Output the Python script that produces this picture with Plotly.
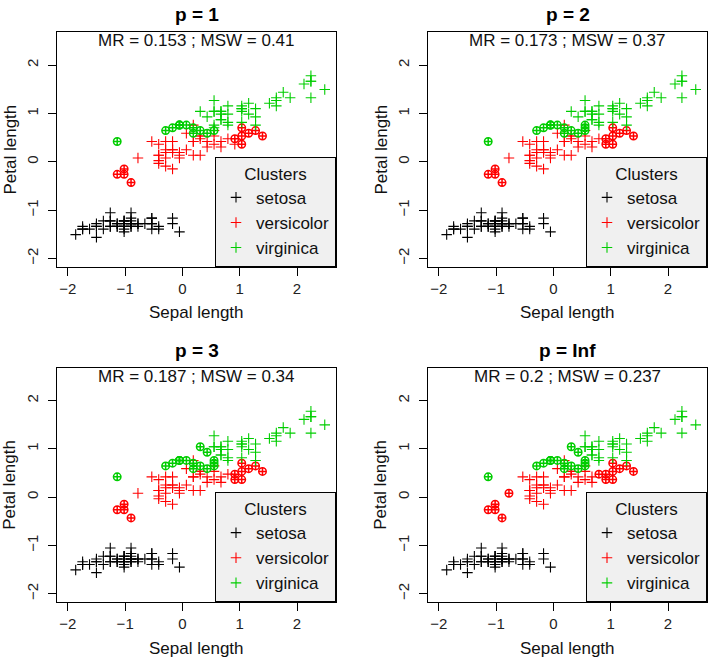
import numpy as np
import plotly.graph_objects as go

# Iris measurements (cm)
sepal_length = [
    5.1, 4.9, 4.7, 4.6, 5.0, 5.4, 4.6, 5.0, 4.4, 4.9, 5.4, 4.8, 4.8, 4.3, 5.8, 5.7, 5.4, 5.1, 5.7, 5.1,
    5.4, 5.1, 4.6, 5.1, 4.8, 5.0, 5.0, 5.2, 5.2, 4.7, 4.8, 5.4, 5.2, 5.5, 4.9, 5.0, 5.5, 4.9, 4.4, 5.1,
    5.0, 4.5, 4.4, 5.0, 5.1, 4.8, 5.1, 4.6, 5.3, 5.0,
    7.0, 6.4, 6.9, 5.5, 6.5, 5.7, 6.3, 4.9, 6.6, 5.2, 5.0, 5.9, 6.0, 6.1, 5.6, 6.7, 5.6, 5.8, 6.2, 5.6,
    5.9, 6.1, 6.3, 6.1, 6.4, 6.6, 6.8, 6.7, 6.0, 5.7, 5.5, 5.5, 5.8, 6.0, 5.4, 6.0, 6.7, 6.3, 5.6, 5.5,
    5.5, 6.1, 5.8, 5.0, 5.6, 5.7, 5.7, 6.2, 5.1, 5.7,
    6.3, 5.8, 7.1, 6.3, 6.5, 7.6, 4.9, 7.3, 6.7, 7.2, 6.5, 6.4, 6.8, 5.7, 5.8, 6.4, 6.5, 7.7, 7.7, 6.0,
    6.9, 5.6, 7.7, 6.3, 6.7, 7.2, 6.2, 6.1, 6.4, 7.2, 7.4, 7.9, 6.4, 6.3, 6.1, 7.7, 6.3, 6.4, 6.0, 6.9,
    6.7, 6.9, 5.8, 6.8, 6.7, 6.7, 6.3, 6.5, 6.2, 5.9,
]
petal_length = [
    1.4, 1.4, 1.3, 1.5, 1.4, 1.7, 1.4, 1.5, 1.4, 1.5, 1.5, 1.6, 1.4, 1.1, 1.2, 1.5, 1.3, 1.4, 1.7, 1.5,
    1.7, 1.5, 1.0, 1.7, 1.9, 1.6, 1.6, 1.5, 1.4, 1.6, 1.6, 1.5, 1.5, 1.4, 1.5, 1.2, 1.3, 1.4, 1.3, 1.5,
    1.3, 1.3, 1.3, 1.6, 1.9, 1.4, 1.6, 1.4, 1.5, 1.4,
    4.7, 4.5, 4.9, 4.0, 4.6, 4.5, 4.7, 3.3, 4.6, 3.9, 3.5, 4.2, 4.0, 4.7, 3.6, 4.4, 4.5, 4.1, 4.5, 3.9,
    4.8, 4.0, 4.9, 4.7, 4.3, 4.4, 4.8, 5.0, 4.5, 3.5, 3.8, 3.7, 3.9, 5.1, 4.5, 4.5, 4.7, 4.4, 4.1, 4.0,
    4.4, 4.6, 4.0, 3.3, 4.2, 4.2, 4.2, 4.3, 3.0, 4.1,
    6.0, 5.1, 5.9, 5.6, 5.8, 6.6, 4.5, 6.3, 5.8, 6.1, 5.1, 5.3, 5.5, 5.0, 5.1, 5.3, 5.5, 6.7, 6.9, 5.0,
    5.7, 4.9, 6.7, 4.9, 5.7, 6.0, 4.8, 4.9, 5.6, 5.8, 6.1, 6.4, 5.6, 5.1, 5.6, 6.1, 5.6, 5.5, 4.8, 5.4,
    5.6, 5.1, 5.1, 5.9, 5.7, 5.2, 5.0, 5.2, 5.4, 5.1,
]
species_names = ["setosa", "versicolor", "virginica"]
species_counts = [50, 50, 50]
species_colors = ["#000000", "#FF0000", "#00CD00"]

panel_titles = ["p = 1", "p = 2", "p = 3", "p = Inf"]
panel_stats = ["MR = 0.153 ; MSW = 0.41", "MR = 0.173 ; MSW = 0.37",
               "MR = 0.187 ; MSW = 0.34", "MR = 0.2 ; MSW = 0.237"]
# 1-based indices of misclassified observations per panel
misclassified = [
    [51, 53, 58, 59, 61, 66, 77, 78, 87, 94, 99,
     102, 107, 114, 115, 120, 122, 124, 127, 128, 139, 143, 150],
    [51, 53, 58, 59, 61, 66, 76, 77, 78, 87, 94, 99,
     102, 107, 114, 115, 120, 122, 124, 127, 128, 134, 139, 143, 147, 150],
    [51, 53, 58, 59, 61, 66, 76, 77, 78, 87, 94, 99,
     102, 107, 114, 115, 120, 122, 124, 127, 128, 134, 135, 139, 143, 147, 149, 150],
    [51, 53, 55, 58, 59, 60, 61, 66, 76, 77, 78, 87, 94, 99,
     102, 107, 114, 115, 120, 122, 124, 127, 128, 134, 135, 139, 143, 147, 149, 150],
]
tick_values = [-2, -1, 0, 1, 2]

s = np.array(sepal_length)
p = np.array(petal_length)
sx = (s - s.mean()) / s.std(ddof=1)
py = (p - p.mean()) / p.std(ddof=1)
species = np.repeat(np.arange(3), species_counts)

W, H = 709, 660
col_px = [(57, 336), (428, 707)]
row_px = [(32.3, 266.7), (367.7, 602)]
FONT = "Liberation Sans, Arial, Helvetica, sans-serif"

fig = go.Figure()
layout = dict(width=W, height=H, margin=dict(l=0, r=0, t=0, b=0),
              paper_bgcolor="white", plot_bgcolor="white",
              font=dict(family=FONT, color="black"), annotations=[])

for k in range(4):
    r, c = divmod(k, 2)
    xd = [col_px[c][0] / W, col_px[c][1] / W]
    yd = [1 - row_px[r][1] / H, 1 - row_px[r][0] / H]
    xa = "x" if k == 0 else f"x{k+1}"
    ya = "y" if k == 0 else f"y{k+1}"
    lg = "legend" if k == 0 else f"legend{k+1}"
    mis = set(i - 1 for i in misclassified[k])
    for j in range(3):
        idx = np.where(species == j)[0]
        ok = [i for i in idx if i not in mis]
        bad = [i for i in idx if i in mis]
        col = species_colors[j]
        fig.add_trace(go.Scatter(
            x=sx[ok], y=py[ok], mode="markers", name=species_names[j],
            marker=dict(symbol="cross-thin-open", size=7.5, color=col,
                        line=dict(color=col, width=1.1)),
            xaxis=xa, yaxis=ya, legend=lg, showlegend=True))
        fig.add_trace(go.Scatter(
            x=sx[bad], y=py[bad], mode="markers", name=species_names[j],
            marker=dict(symbol="circle-cross-open", size=7.5, color=col,
                        line=dict(color=col, width=1.5)),
            xaxis=xa, yaxis=ya, legend=lg, showlegend=False))

    axcommon = dict(showline=True, mirror=True, linecolor="black", linewidth=1,
                    ticks="outside", ticklen=8, tickcolor="black", showgrid=False,
                    zeroline=False, tickvals=tick_values,
                    tickfont=dict(size=15, family=FONT, color="#222"))
    layout["xaxis" if k == 0 else f"xaxis{k+1}"] = dict(
        domain=xd, range=[-2.19, 2.68], anchor=ya, **axcommon)
    layout["yaxis" if k == 0 else f"yaxis{k+1}"] = dict(
        domain=yd, range=[-2.17, 2.68], anchor=xa, tickangle=-90,
        ticklabelstandoff=4, **axcommon)
    layout[lg] = dict(x=xd[1], xanchor="right", y=yd[0], yanchor="bottom",
                      bgcolor="#F0F0F0", bordercolor="black", borderwidth=1,
                      font=dict(size=17, family=FONT, color="#111"),
                      title=dict(text="Clusters", side="top center",
                                 font=dict(size=17, family=FONT, color="#111")),
                      itemclick=False, itemdoubleclick=False, tracegroupgap=0)
    ph = row_px[r][1] - row_px[r][0]
    pw = col_px[c][1] - col_px[c][0]
    layout["annotations"] += [
        dict(text=f"<b>{panel_titles[k]}</b>", xref=f"{xa} domain", yref=f"{ya} domain",
             x=0.5, y=1 + 17.5 / ph, xanchor="center", yanchor="middle", showarrow=False,
             font=dict(size=19, family=FONT, color="black")),
        dict(text=panel_stats[k], xref=f"{xa} domain", yref=f"{ya} domain",
             x=0.5, y=1 - 8.5 / ph, xanchor="center", yanchor="middle", showarrow=False,
             font=dict(size=17, family=FONT, color="#111")),
        dict(text="Sepal length", xref=f"{xa} domain", yref=f"{ya} domain",
             x=0.5, y=-46 / ph, xanchor="center", yanchor="middle", showarrow=False,
             font=dict(size=17, family=FONT, color="#111")),
        dict(text="Petal length", xref=f"{xa} domain", yref=f"{ya} domain",
             x=-47 / pw, y=0.5, xanchor="center", yanchor="middle", showarrow=False,
             textangle=-90, font=dict(size=17, family=FONT, color="#111")),
    ]

fig.update_layout(**layout)
fig.write_html("out.html", config={"displayModeBar": False},
               post_script="document.body.style.margin='0';document.body.style.overflow='hidden';")
